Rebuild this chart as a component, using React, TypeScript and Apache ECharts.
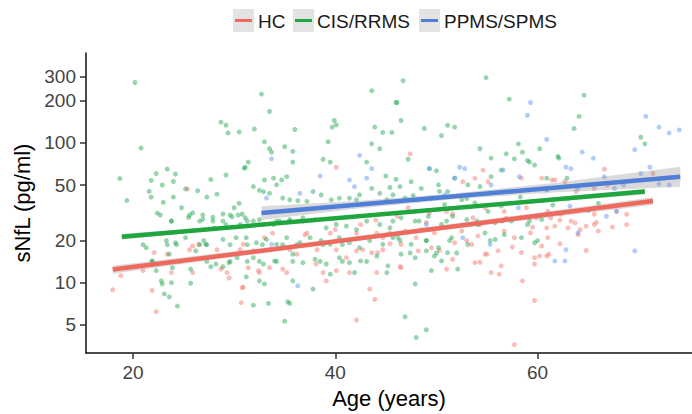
import React, { useEffect, useRef } from "react";
import * as echarts from "echarts";

const legendNames = ["HC", "CIS/RRMS", "PPMS/SPMS"];
const xTicks = [20, 40, 60];
const yTicks = [5, 10, 20, 50, 100, 200, 300];

const hcPoints = [
  [25.4, 46.8], [22.1, 16.4], [23.4, 16], [25.9, 18.3], [26.5, 18.8], [18.8, 11.2], [21, 12.2], [18, 8.9],
  [21.9, 8.8], [22.3, 6.2], [23.8, 11.8], [29.5, 10.8], [28.7, 12.5], [30.7, 7.2], [30.8, 9.2],
  [40.1, 67], [30.9, 18.8], [31.9, 16.9], [33, 21], [31.4, 12.8], [32.4, 12.2], [33.5, 12.8], [34.8, 12.5],
  [30.9, 9.3], [36.2, 16], [38.1, 13.6], [39.1, 10.3], [40.1, 12.2], [41.1, 15.1], [42.1, 16.9], [43.6, 16.4],
  [44.2, 16.4], [43.4, 9], [43.9, 7.6], [42.1, 5.4], [44.7, 21], [45.4, 22.7], [37, 22], [40, 24], [42.5, 26], [44, 28],
  [47.4, 83.6], [54.6, 64], [52.6, 52.8], [53.8, 56], [55.1, 52.8], [58.4, 56], [60.4, 56], [61.4, 54.4],
  [47.2, 34.4], [49.3, 31.5], [51, 32.4], [53.6, 29.1], [54.8, 34.4], [56.7, 32.4], [58.9, 34.4], [59.9, 29.1], [61, 32.4],
  [46.9, 23.4], [48.5, 24], [49.8, 22.7], [52.5, 23.4], [54.1, 21.6], [56.7, 23.4], [57.7, 21], [59.3, 22.7], [61, 21],
  [46.5, 18.8], [48.2, 16.9], [49.5, 17.8], [51.8, 19.3], [53.5, 18.8], [54.8, 16], [56.1, 16.9], [58.4, 16.4],
  [59.7, 15.1], [60.4, 18.3], [46.5, 12.8], [51.6, 14.7], [53.8, 13.9], [55.4, 11.8], [56.4, 13.2], [59.7, 13.6],
  [60.9, 15.5], [58.5, 10.3], [59.7, 7.45], [57.7, 3.6],
  [66.6, 65], [71.4, 60.5], [61.7, 54.4], [62.7, 52.8], [63.8, 45], [65.6, 47.3], [66.9, 50], [61.3, 29.1],
  [62.3, 30.9], [63.3, 27.6], [65.6, 30.9], [67.8, 32.4], [68.8, 30.9], [61.7, 25.4], [63, 24.7], [63.7, 26.8],
  [64.8, 25.4], [65.6, 26.1], [66, 23.4], [64, 22.1], [61.1, 16], [60.9, 24.7],
  [25.6, 17.2], [28.3, 17.2], [30.6, 17.2], [33.5, 17.2], [35.5, 17.2], [38.2, 17.2], [40.1, 17.2], [42.7, 17.2],
  [44.7, 17.2], [25.9, 11.8], [29.3, 11.8], [32.5, 11.8], [35.2, 11.8], [38.8, 11.8], [41.4, 11.8], [44.1, 11.8],
  [33.8, 22.6], [37.2, 22.6], [39.5, 22.6], [42.1, 22.6], [44.1, 22.6],
  [46.1, 30], [49, 27], [51.6, 31], [54.3, 26], [56.9, 29], [59.5, 25], [62.2, 28], [64.2, 24], [65.8, 27],
  [67.4, 25], [68.8, 26], [45.4, 19], [48, 21], [50.3, 17], [53, 20], [55, 16], [57.5, 18], [60.2, 15.5],
  [62.2, 19], [64.8, 17], [46.4, 13], [51, 12.5], [54.3, 14], [56.2, 11.5],
];

const cisPoints = [
  [20.2, 271], [20.8, 92], [28.7, 141], [29.2, 134], [29.4, 118], [30.5, 120], [18.7, 55.6], [19.4, 38.8],
  [22.3, 60.5], [23.4, 65], [24.2, 60], [21.8, 54], [22.9, 50], [24, 53], [21.6, 45], [21.8, 41], [24, 41],
  [23, 37.6], [25.2, 47], [26.4, 45.5], [27.7, 54.8], [27.3, 41], [28.3, 43], [29.2, 59], [31, 66], [22.4, 31.5],
  [24.8, 34.4], [25.9, 31.6], [23.8, 27.6], [25.5, 29.3], [26.9, 28.4], [27.9, 29.4], [28.9, 31], [30, 34.4],
  [29.8, 29.6], [30.5, 37], [29.2, 26], [28, 24.6], [30.8, 31], [21.3, 17.8], [23.3, 20], [24.2, 19.3], [25.2, 21],
  [27, 20], [28.9, 20.4], [30.2, 21], [21.9, 14.3], [23.6, 16], [26.2, 16.9], [27.2, 18.8], [28.2, 13.6],
  [29.5, 13.9], [30.3, 15.1], [22.3, 12.2], [23.9, 12.8], [25.7, 12.5], [27.7, 13], [28.9, 13], [22.8, 10.3],
  [22.9, 9.8], [23.8, 10], [25.7, 9.9], [23.1, 8.3], [23.6, 7.9], [24.4, 6.8],
  [32.7, 224], [33.5, 168], [32, 126], [36, 125], [43.6, 237], [46, 195], [39.9, 145], [40.1, 135], [39.7, 130],
  [43.9, 130], [44.7, 119], [45.6, 119], [39.3, 102], [43.6, 98.6], [44.4, 91], [33, 102], [33.5, 91], [33.7, 86],
  [35, 94], [35.8, 87], [38.8, 76.5], [39.5, 73], [35.8, 73], [31.1, 67], [31.4, 73], [43.1, 73], [45, 58], [46, 55],
  [33, 54.4], [33.9, 56], [34.2, 50.2], [34.7, 54.4], [35.2, 57.4], [31.9, 48.7], [32.5, 45.8], [32.9, 44.9],
  [33.5, 43.6], [34.8, 40.3], [35.5, 39.2], [36.3, 38.6], [37.2, 38.2], [37.8, 44.9], [38.6, 42.5], [39.6, 39.2],
  [40.4, 40.3], [41.4, 40.3], [42.1, 39.2], [42.4, 42.5], [43.6, 47.3], [44.4, 43.6], [45.1, 39.2], [45.7, 42.5],
  [30.6, 26.1], [31.1, 29.1], [31.9, 27.6], [32.5, 28.3], [33.9, 26.1], [34.5, 27.6], [35.5, 28.3], [36.8, 29.1],
  [38, 28.3], [39.1, 24.7], [40.1, 26.1], [41.1, 25.4], [42.1, 24], [43.1, 27.6], [44.4, 26.1], [45.4, 24.7],
  [31.2, 21], [32.2, 19.3], [33.2, 20.4], [34.2, 18.8], [35.2, 21], [36.5, 19.3], [37.5, 21], [38.6, 20],
  [39.5, 18.8], [40.4, 21], [41.4, 19.3], [42.4, 17.8], [43.4, 20], [44.7, 18.8], [45.7, 21], [31.9, 15.1],
  [32.9, 13.6], [34, 14.3], [35.8, 16], [36.8, 13.9], [38, 14.7], [39.1, 13.6], [40.4, 15.1], [41.4, 13.9],
  [42.5, 14.3], [44.1, 15.5], [45.2, 13.2], [31.2, 11], [32.5, 10.3], [33, 9.8], [35.8, 10.3], [37.8, 9],
  [39.5, 11.5], [41.9, 11.8], [45.1, 11.8], [31.9, 6.9], [33.4, 7.1], [35.3, 7.3], [35.5, 7.1], [35, 5.3],
  [46.7, 279], [54.9, 294], [57.2, 206], [46.1, 195], [46.5, 145], [51.1, 134], [51.8, 130], [48.8, 127],
  [50.5, 113], [54.3, 91], [55.4, 78], [56.9, 83.6], [58.1, 98.6], [58.5, 86], [60.2, 91], [57.7, 77], [59, 75],
  [59.7, 69.5], [59.2, 73], [47.2, 76.5], [49.3, 65.6], [50, 63.2], [51.8, 56], [53.1, 50.2], [54.3, 48.7],
  [55.4, 57.4], [56.4, 64], [46.4, 48.7], [47.5, 52.8], [48.5, 47.3], [50.2, 50.2], [51.1, 44.9], [46.9, 40.3],
  [48.2, 39.2], [49.5, 40.3], [50.8, 36.2], [52.5, 39.2], [53.8, 37.2], [55.1, 32.4], [56.4, 35.3], [46.5, 29.1],
  [47.9, 27.6], [49.2, 29.9], [50.5, 26.1], [51.6, 29.9], [53, 28.3], [54.1, 26.1], [55.8, 26.8], [57.4, 27.6],
  [59, 26.1], [60.4, 28.3], [46.2, 21], [47.5, 18.8], [49, 20], [50.2, 17.8], [51.5, 21], [53.1, 18.8], [54.8, 22.7],
  [55.8, 20.4], [56.7, 22.1], [58.4, 21], [59.7, 19.3], [46.5, 16], [47.9, 15.1], [49, 16.9], [49.8, 15.5],
  [50.5, 14.3], [51.1, 16.4], [52.1, 12.5], [49.5, 12.2], [47.9, 9.8], [46.9, 5.7], [49, 4.6], [48, 4.05],
  [64.6, 220], [64.1, 155], [63.6, 127], [70.2, 110], [70.6, 98.6], [62, 80], [62.1, 78], [62.9, 56], [60.9, 56],
  [61.5, 36], [63, 40], [65, 33], [66, 37],
  [22.7, 30.5], [25.6, 30.5], [26.9, 30.5], [29.6, 30.5], [30.4, 30.5],
  [23.8, 27.6], [26.6, 27.6], [27.9, 27.6], [28.9, 27.6], [31.3, 27.6], [34.2, 27.6], [35.5, 27.6], [36.8, 27.6],
  [21, 18.7], [23.4, 18.7], [24.3, 18.7], [26.6, 18.7], [27.3, 18.7], [29.6, 18.7], [31.3, 18.7], [32.8, 18.7],
  [34.8, 18.7], [36.2, 18.7], [38.8, 18.7], [40.7, 18.7],
  [21.9, 14.2], [24.6, 14.2], [27.3, 14.2], [29.6, 14.2], [31.3, 14.2], [32.5, 14.2], [34.2, 14.2], [35.8, 14.2],
  [38.5, 14.2], [40.7, 14.2], [43.1, 14.2],
  [45.4, 48], [47.7, 42], [50.3, 45], [53, 40], [55.3, 44], [58.3, 41], [60.9, 46],
  [45.7, 27.6], [48.3, 27.6], [51, 27.6], [54, 27.6], [56.5, 27.6], [59.2, 27.6],
  [46.4, 20], [49, 20], [51.3, 20], [55.3, 20], [60, 20], [47.4, 16.3], [50, 16.3], [52, 16.3],
];

const ppmsPoints = [
  [33.7, 77], [38.5, 58], [42.4, 81.6], [43.6, 65.6], [41.4, 54.4], [41.9, 48.7], [43.1, 56], [33.2, 40.3],
  [36.5, 43.6], [33.7, 18.8], [36.3, 9.5],
  [59.3, 195], [59, 158], [60.9, 106], [49.3, 65.6], [52.3, 67], [52.8, 65.6], [51.8, 56], [56.6, 64], [58.2, 57.4],
  [49, 26.1], [52.6, 21], [50.8, 42.5], [55.3, 18.8], [55.4, 50], [58.1, 34.4], [61.7, 14.3],
  [70.7, 155], [72, 130], [73, 118], [74, 124], [69.6, 89.5], [64.4, 86], [65.5, 78], [62.8, 67], [63.3, 65.6],
  [66.6, 57.4], [71.1, 67], [70.2, 60.5], [73, 50], [72, 51], [63.2, 35.3], [64, 22.7], [66.8, 29.9], [67.8, 32.4],
  [62.7, 14.3], [69.6, 16.9], [64, 47.3], [68.5, 50], [67.6, 47.3], [62.8, 17.2],
];

const hcLine = [[18, 12.4], [71.4, 38.4]];
const cisLine = [[18.9, 21.3], [70.6, 44.9]];
const ppmsLine = [[32.7, 31.5], [74.1, 57.4]];

const hcBandAge = [18, 30, 45, 60, 71.4];
const hcBandLow = [11.6, 15.3, 21.1, 28.7, 36.0];
const hcBandHigh = [13.2, 16.75, 22.9, 31.7, 40.9];
const cisBandAge = [18.9, 30, 45, 60, 70.6];
const cisBandLow = [20.3, 24.4, 30.2, 37.4, 42.8];
const cisBandHigh = [22.4, 25.7, 31.8, 39.7, 47.1];
const ppmsBandAge = [32.7, 42, 52, 62, 74.1];
const ppmsBandLow = [28.1, 33.8, 39.7, 44.4, 48.7];
const ppmsBandHigh = [35.3, 38.4, 43.7, 52.2, 67.6];

const pointColors = ["rgba(245,120,110,0.6)", "rgba(20,160,70,0.55)", "rgba(97,150,245,0.6)"];
const lineColors = ["#F0695E", "#1FA63E", "#4F7FD6"];
const FONT = "'Liberation Sans', Arial, sans-serif";

function bandSeries(ages: number[], lo: number[], hi: number[]) {
  return {
    type: "custom",
    silent: true,
    z: 3,
    data: ages.map((a, i) => [a, lo[i], hi[i]]),
    encode: { x: 0, y: [1, 2] },
    renderItem: (params: any, api: any) => {
      if (params.dataIndex !== 0) return null;
      const top = ages.map((a, i) => api.coord([a, hi[i]]));
      const bottom = ages.map((a, i) => api.coord([a, lo[i]])).reverse();
      return {
        type: "polygon",
        shape: { points: top.concat(bottom) },
        style: { fill: "rgba(150,150,150,0.35)" },
      };
    },
  };
}

export default function App() {
  const ref = useRef<HTMLDivElement>(null);
  useEffect(() => {
    if (!ref.current) return;
    const chart = echarts.init(ref.current, null, { renderer: "svg" });
    const keyX = [233, 293, 419];
    const textX = [258, 317, 444];
    const legendGraphics: any[] = [];
    legendNames.forEach((name, i) => {
      legendGraphics.push({
        type: "rect",
        shape: { x: keyX[i], y: 9, width: 21, height: 23 },
        style: { fill: "#e3e3e3" },
      });
      legendGraphics.push({
        type: "line",
        shape: { x1: keyX[i] + 2, y1: 20.5, x2: keyX[i] + 19, y2: 20.5 },
        style: { stroke: lineColors[i], lineWidth: 3 },
      });
      legendGraphics.push({
        type: "text",
        x: textX[i],
        y: 21,
        style: {
          text: name,
          fill: "#1a1a1a",
          font: `19px ${FONT}`,
          verticalAlign: "middle",
          align: "left",
        },
      });
    });

    const scatter = (pts: number[][], color: string) => ({
      type: "scatter",
      data: pts,
      symbolSize: 5,
      z: 2,
      itemStyle: { color },
      silent: true,
    });
    const line = (pts: number[][], color: string) => ({
      type: "line",
      data: pts,
      symbol: "none",
      z: 4,
      lineStyle: { color, width: 4.5 },
      silent: true,
    });

    chart.setOption({
      animation: false,
      grid: { left: 86, right: 0, top: 53, bottom: 58 },
      xAxis: {
        type: "value",
        min: 15.36,
        max: 75.26,
        name: "Age (years)",
        nameLocation: "middle",
        nameGap: 33,
        nameTextStyle: { fontSize: 22, color: "#000", fontFamily: FONT },
        axisLine: { lineStyle: { color: "#111", width: 1.5 } },
        axisTick: { length: 6, lineStyle: { color: "#333", width: 1.5 }, customValues: xTicks },
        axisLabel: { customValues: xTicks, fontSize: 19, color: "#444", fontFamily: FONT, margin: 10 },
        splitLine: { show: false },
      },
      yAxis: {
        type: "log",
        logBase: 10,
        min: 3.13,
        max: 441,
        name: "sNfL (pg/ml)",
        nameLocation: "middle",
        nameGap: 51,
        nameTextStyle: { fontSize: 22, color: "#000", fontFamily: FONT },
        axisLine: { lineStyle: { color: "#111", width: 1.5 } },
        axisTick: { length: 6, lineStyle: { color: "#333", width: 1.5 }, customValues: yTicks },
        axisLabel: { customValues: yTicks, fontSize: 19, color: "#444", fontFamily: FONT, margin: 10 },
        splitLine: { show: false },
        minorTick: { show: false },
      },
      graphic: legendGraphics,
      series: [
        scatter(hcPoints, pointColors[0]),
        scatter(cisPoints, pointColors[1]),
        scatter(ppmsPoints, pointColors[2]),
        bandSeries(hcBandAge, hcBandLow, hcBandHigh),
        bandSeries(cisBandAge, cisBandLow, cisBandHigh),
        bandSeries(ppmsBandAge, ppmsBandLow, ppmsBandHigh),
        line(hcLine, lineColors[0]),
        line(cisLine, lineColors[1]),
        line(ppmsLine, lineColors[2]),
      ],
    });
    return () => chart.dispose();
  }, []);
  return (
    <div
      ref={ref}
      style={{ position: "fixed", left: 0, top: 0, width: 692, height: 414, background: "#fff" }}
    />
  );
}
